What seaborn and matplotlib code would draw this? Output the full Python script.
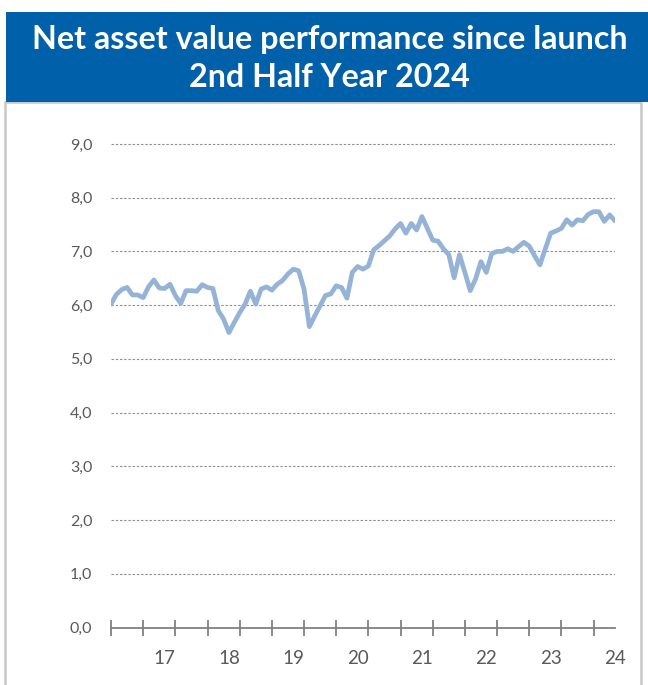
import matplotlib
matplotlib.use("Agg")
import matplotlib.pyplot as plt
import seaborn as sns
import pandas as pd
from matplotlib.patches import Rectangle
from matplotlib.ticker import FixedLocator, FuncFormatter

# ---- data (monthly NAV) ----
nav_values = [
    6.02, 6.20, 6.29, 6.33, 6.19, 6.19, 6.14, 6.34, 6.47, 6.32,
    6.31, 6.39, 6.18, 6.03, 6.27, 6.27, 6.26, 6.38, 6.33, 6.31,
    5.90, 5.74, 5.49, 5.68, 5.86, 6.02, 6.26, 6.02, 6.30, 6.34,
    6.28, 6.39, 6.46, 6.58, 6.67, 6.64, 6.30, 5.60, 5.80, 5.99,
    6.18, 6.21, 6.36, 6.33, 6.13, 6.61, 6.72, 6.67, 6.73, 7.03,
    7.11, 7.20, 7.29, 7.42, 7.52, 7.34, 7.52, 7.40, 7.65, 7.43,
    7.21, 7.19, 7.05, 6.94, 6.51, 6.94, 6.61, 6.27, 6.49, 6.81,
    6.61, 6.96, 7.00, 7.00, 7.05, 7.00, 7.09, 7.17, 7.10, 6.92,
    6.75, 7.05, 7.34, 7.38, 7.43, 7.59, 7.49, 7.59, 7.57, 7.69,
    7.74, 7.74, 7.56, 7.68, 7.57,
]
month_index = list(range(len(nav_values)))
year_labels = ["17", "18", "19", "20", "21", "22", "23", "24"]
year_label_index = [10, 22, 34, 46, 58, 70, 82, 94]
y_ticks = [0, 1, 2, 3, 4, 5, 6, 7, 8, 9]
title_lines = "Net asset value performance since launch\n2nd Half Year 2024"

df = pd.DataFrame({"month": month_index, "nav": nav_values})

sns.set_style("white")
plt.rcParams["font.family"] = ["Lato", "DejaVu Sans"]

W, H = 648, 685
fig = plt.figure(figsize=(W / 100, H / 100), dpi=100)
fig.patch.set_facecolor("white")

# frame box
fig.patches.append(Rectangle((5 / W, 0 - 10 / H), 636 / W, (H - 102 + 10) / H,
                             transform=fig.transFigure, facecolor="none",
                             edgecolor="#C8C8C8", linewidth=1.8, zorder=-2))
# blue title band
fig.patches.append(Rectangle((6 / W, 1 - 102 / H), (W - 6) / W, 90 / H,
                             transform=fig.transFigure, facecolor="#0060A9",
                             edgecolor="none", zorder=-1))
fig.text(329.5 / W, 1 - 58.5 / H, title_lines, color="white", fontsize=23.2,
         fontweight="bold", ha="center", va="center", linespacing=1.36,
         family=["Lato", "DejaVu Sans"])

y0_px = 627.5
ytop = 9.05
px_per_unit = (y0_px - 144) / 9
top_px = y0_px - ytop * px_per_unit
ax = fig.add_axes([111 / W, 1 - y0_px / H, (615 - 111) / W, (y0_px - top_px) / H])
ax.set_facecolor("none")

sns.lineplot(data=df, x="month", y="nav", ax=ax, color="#95B3D7",
             linewidth=3.4, solid_joinstyle="round", solid_capstyle="round")

ax.set_xlim(0, len(nav_values) - 1)
ax.set_ylim(0, ytop)
ax.set_xlabel("")
ax.set_ylabel("")

for s in ["top", "right", "left"]:
    ax.spines[s].set_visible(False)
ax.spines["bottom"].set_color("#808080")
ax.spines["bottom"].set_linewidth(1.3)

ax.yaxis.set_major_locator(FixedLocator(y_ticks))
ax.yaxis.set_major_formatter(FuncFormatter(lambda v, p: f"{v:.1f}".replace(".", ",")))
ax.tick_params(axis="y", left=False, length=0, pad=13.5, labelsize=11.5,
               labelcolor="#595959")
for yv in y_ticks[1:]:
    ax.axhline(yv, color="#909090", linewidth=0.8, linestyle=(0, (2.2, 1.6)), zorder=0)

ax.xaxis.set_major_locator(FixedLocator(list(range(0, len(nav_values) - 1, 6))))
ax.xaxis.set_major_formatter(FuncFormatter(lambda v, p: ""))
ax.xaxis.set_minor_locator(FixedLocator(year_label_index))
ax.xaxis.set_minor_formatter(FuncFormatter(
    lambda v, p: year_labels[year_label_index.index(int(round(v)))] if int(round(v)) in year_label_index else ""))
ax.tick_params(axis="x", which="major", bottom=True, direction="inout", length=11,
               width=1.3, color="#808080")
ax.tick_params(axis="x", which="minor", bottom=True, length=0, pad=16.5, labelsize=13.5,
               labelcolor="#595959")

fig.savefig("out.png", dpi=100, facecolor="white")
